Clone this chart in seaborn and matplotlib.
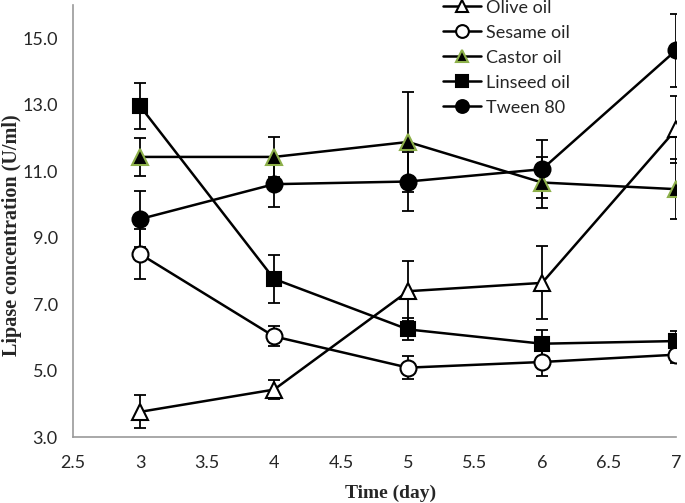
import matplotlib
matplotlib.use("Agg")
import matplotlib.pyplot as plt
import seaborn as sns
import pandas as pd

days = [3, 4, 5, 6, 7]

olive = [3.76, 4.43, 7.39, 7.64, 12.26]
olive_err = [0.5, 0.28, 0.9, 1.1, 1.0]
sesame = [8.51, 6.03, 5.09, 5.26, 5.48]
sesame_err = [0.76, 0.3, 0.34, 0.42, 0.25]
castor = [11.43, 11.43, 11.88, 10.66, 10.46]
castor_err = [0.57, 0.6, 1.5, 0.78, 0.9]
linseed = [12.96, 7.76, 6.24, 5.81, 5.89]
linseed_err = [0.7, 0.73, 0.33, 0.4, 0.3]
tween = [9.56, 10.61, 10.69, 11.06, 14.64]
tween_err = [0.85, 0.68, 0.9, 0.88, 1.1]

series_names = ["Olive oil", "Sesame oil", "Castor oil", "Linseed oil", "Tween 80"]

sns.set_style("white")
plt.rcParams['font.family'] = ['Lato', 'DejaVu Sans']

fig = plt.figure(figsize=(6.85, 5.03), dpi=100)
ax = fig.add_axes([0.1066, 0.131, 0.8804, 0.859])

# marker style per series: (marker, face, edge, size)
styles = [
    ("^", "white", "black", 11.5),
    ("o", "white", "black", 11.5),
    ("^", "black", "#8db04a", 11.5),
    ("s", "black", "black", 10),
    ("o", "black", "black", 11.5),
]
values = [olive, sesame, castor, linseed, tween]
errors = [olive_err, sesame_err, castor_err, linseed_err, tween_err]

for name, vals, errs, (mk, fc, ec, ms) in zip(series_names, values, errors, styles):
    df = pd.DataFrame({"day": days, "conc": vals})
    ax.errorbar(days, vals, yerr=errs, fmt="none", ecolor="black",
                elinewidth=1.3, capsize=4, capthick=1.3, zorder=2)
    sns.lineplot(data=df, x="day", y="conc", ax=ax, color="black", lw=1.8,
                 marker=mk, markersize=ms, markerfacecolor=fc,
                 markeredgecolor=ec, markeredgewidth=1.5, label=name,
                 zorder=3)

ax.set_xlim(2.5, 7)
ax.set_ylim(3, 16)
ax.set_xticks([2.5, 3, 3.5, 4, 4.5, 5, 5.5, 6, 6.5, 7])
ax.set_xticklabels(["2.5", "3", "3.5", "4", "4.5", "5", "5.5", "6", "6.5", "7"])
ax.set_yticks([3, 5, 7, 9, 11, 13, 15])
ax.set_yticklabels(["3.0", "5.0", "7.0", "9.0", "11.0", "13.0", "15.0"])
ax.tick_params(axis="both", labelsize=13, length=5, width=1, color="#999999",
               direction="out", pad=6)
ax.tick_params(axis="x", pad=8)
for s in ["top", "right"]:
    ax.spines[s].set_visible(False)
for s in ["left", "bottom"]:
    ax.spines[s].set_color("#999999")
    ax.spines[s].set_linewidth(1.2)

ax.set_xlabel("Time (day)", fontsize=14, fontweight="bold",
              family="Liberation Serif")
ax.set_ylabel("Lipase concentration (U/ml)", fontsize=14.5, fontweight="bold",
              family="Liberation Serif")
ax.xaxis.set_label_coords(0.527, -0.109)
ax.yaxis.set_label_coords(-0.085, 0.468)

leg = ax.legend(loc="upper left", bbox_to_anchor=(0.587, 1.05), frameon=False,
                fontsize=13, handlelength=2.1, handletextpad=0.25,
                labelspacing=0.5, markerscale=0.8)

fig.savefig("out.png", dpi=100)
